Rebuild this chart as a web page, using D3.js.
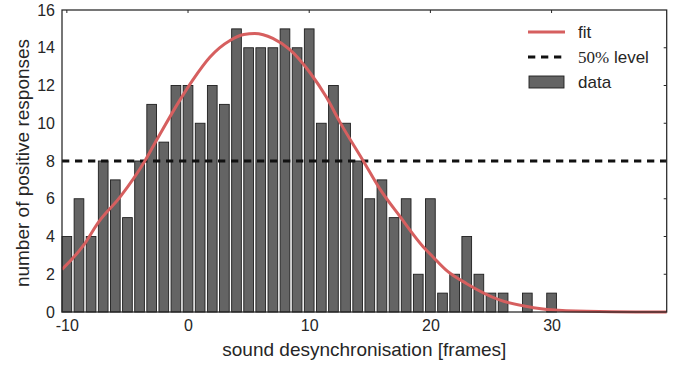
<!DOCTYPE html>
<html>
<head>
<meta charset="utf-8">
<script src="https://cdn.jsdelivr.net/npm/d3@7"></script>
<style>
  body { margin: 0; background: #fff; }
  svg { display: block; }
</style>
</head>
<body>
<div id="chart"></div>
<script>
// bar data: frames offset and number of positive responses
const offsets = [-10, -9, -8, -7, -6, -5, -4, -3, -2, -1, 0, 1, 2, 3, 4, 5, 6, 7, 8, 9, 10,
  11, 12, 13, 14, 15, 16, 17, 18, 19, 20, 21, 22, 23, 24, 25, 26, 27, 28, 29, 30, 31];
const counts = [4, 6, 4, 8, 7, 5, 8, 11, 9, 12, 12, 10, 12, 11, 15, 14, 14, 14, 15, 14, 15,
  10, 12, 10, 8, 6, 7, 5, 6, 2, 6, 1, 2, 4, 2, 1, 1, 0, 1, 0, 1, 0];

// fit curve
const fitX = [-10.4, -8.6, -7.4, -5.6, -3.6, -2.6, -0.7, 0.4, 1.8, 3.5, 4.6, 5.5, 7.0, 8.4,
  10.1, 11.4, 12.5, 14.5, 15.8, 17.5, 19.4, 20.2, 21.3, 23, 25.7, 28.5, 31.2, 35, 39.5];
const fitY = [2.26, 3.55, 4.75, 6.1, 7.96, 9.1, 11.2, 12.3, 13.5, 14.4, 14.7, 14.76, 14.5, 13.9,
  12.65, 11.4, 10.1, 7.96, 6.55, 5.05, 3.46, 2.93, 2.22, 1.5, 0.64, 0.23, 0.06, 0.01, 0];

const level = 8;
const xTicks = [-10, 0, 10, 20, 30];
const yTicks = [0, 2, 4, 6, 8, 10, 12, 14, 16];

const width = 686;
const height = 366;
const margin = { top: 10, right: 19.3, bottom: 54, left: 62 };
const barWidth = 0.8;
const textColor = "#262626";

const svg = d3.select("#chart")
  .append("svg")
  .attr("width", width)
  .attr("height", height)
  .attr("font-family", "'Liberation Sans', Arial, sans-serif");

const x = d3.scaleLinear()
  .domain([-10.4, 39.5])
  .range([margin.left, width - margin.right]);

const y = d3.scaleLinear()
  .domain([0, 16])
  .range([height - margin.bottom, margin.top]);

// bars
svg.append("g")
  .selectAll("rect")
  .data(offsets)
  .join("rect")
  .attr("x", (d) => x(d - barWidth / 2))
  .attr("width", x(barWidth) - x(0))
  .attr("y", (d, i) => y(counts[i]))
  .attr("height", (d, i) => y(0) - y(counts[i]))
  .attr("fill", "#646464")
  .attr("stroke", "#1e1e1e")
  .attr("stroke-width", 0.9);

// 50% level
svg.append("line")
  .attr("x1", x.range()[0])
  .attr("x2", x.range()[1])
  .attr("y1", y(level))
  .attr("y2", y(level))
  .attr("stroke", "#111")
  .attr("stroke-width", 3)
  .attr("stroke-dasharray", "7.3,5.7");

// fit
const line = d3.line()
  .x((d) => x(d[0]))
  .y((d) => y(d[1]))
  .curve(d3.curveMonotoneX);

svg.append("path")
  .datum(fitX.map((d, i) => [d, fitY[i]]))
  .attr("fill", "none")
  .attr("stroke", "#d65f5f")
  .attr("stroke-width", 3)
  .attr("d", line);

// axes
const xAxis = svg.append("g")
  .attr("transform", `translate(0,${y(0)})`)
  .call(d3.axisBottom(x).tickValues(xTicks).tickSize(0).tickPadding(8).tickFormat(d3.format("d")));

const yAxis = svg.append("g")
  .attr("transform", `translate(${x.range()[0]},0)`)
  .call(d3.axisLeft(y).tickValues(yTicks).tickSize(0).tickPadding(7));

[xAxis, yAxis].forEach((g) => {
  g.select(".domain").remove();
  g.selectAll("text")
    .attr("font-size", 16)
    .attr("fill", textColor)
    .attr("font-family", "'Liberation Sans', Arial, sans-serif");
});
xAxis.selectAll("text").text((d) => (d < 0 ? "-" + Math.abs(d) : d));

// inward ticks on the top and right spines
svg.append("g")
  .selectAll("line")
  .data(yTicks.slice(1, -1))
  .join("line")
  .attr("x1", x.range()[1] - 3)
  .attr("x2", x.range()[1])
  .attr("y1", (d) => y(d))
  .attr("y2", (d) => y(d))
  .attr("stroke", "#262626")
  .attr("stroke-width", 1);

svg.append("g")
  .selectAll("line")
  .data(xTicks)
  .join("line")
  .attr("x1", (d) => x(d))
  .attr("x2", (d) => x(d))
  .attr("y1", y(16))
  .attr("y2", y(16) + 3)
  .attr("stroke", "#262626")
  .attr("stroke-width", 1);

// frame
svg.append("rect")
  .attr("x", x.range()[0])
  .attr("y", y.range()[1])
  .attr("width", x.range()[1] - x.range()[0])
  .attr("height", y.range()[0] - y.range()[1])
  .attr("fill", "none")
  .attr("stroke", "#262626")
  .attr("stroke-width", 1.25);

// axis labels
svg.append("text")
  .attr("x", (x.range()[0] + x.range()[1]) / 2)
  .attr("y", 355.5)
  .attr("text-anchor", "middle")
  .attr("font-size", 19)
  .attr("fill", textColor)
  .text("sound desynchronisation [frames]");

svg.append("text")
  .attr("transform", `translate(29,${(y.range()[0] + y.range()[1]) / 2 + 2}) rotate(-90)`)
  .attr("text-anchor", "middle")
  .attr("font-size", 19)
  .attr("fill", textColor)
  .text("number of positive responses");

// legend
const legend = svg.append("g").attr("transform", "translate(528,0)");

legend.append("line")
  .attr("x1", 0).attr("x2", 37)
  .attr("y1", 32).attr("y2", 32)
  .attr("stroke", "#d65f5f")
  .attr("stroke-width", 3);

legend.append("line")
  .attr("x1", 0).attr("x2", 37)
  .attr("y1", 57).attr("y2", 57)
  .attr("stroke", "#111")
  .attr("stroke-width", 3)
  .attr("stroke-dasharray", "7.3,5.7");

legend.append("rect")
  .attr("x", 1).attr("y", 76)
  .attr("width", 35).attr("height", 12)
  .attr("fill", "#646464")
  .attr("stroke", "#1e1e1e")
  .attr("stroke-width", 0.9);

legend.append("text")
  .attr("x", 50).attr("y", 38)
  .attr("font-size", 17)
  .attr("fill", textColor)
  .text("fit");

const lvl = legend.append("text")
  .attr("x", 50).attr("y", 63)
  .attr("font-size", 17)
  .attr("fill", textColor);
lvl.append("tspan")
  .attr("font-family", "'Liberation Serif', 'DejaVu Serif', serif")
  .attr("font-size", 17)
  .text("50%");
lvl.append("tspan").text(" level");

legend.append("text")
  .attr("x", 50).attr("y", 88)
  .attr("font-size", 17)
  .attr("fill", textColor)
  .text("data");
</script>
</body>
</html>
